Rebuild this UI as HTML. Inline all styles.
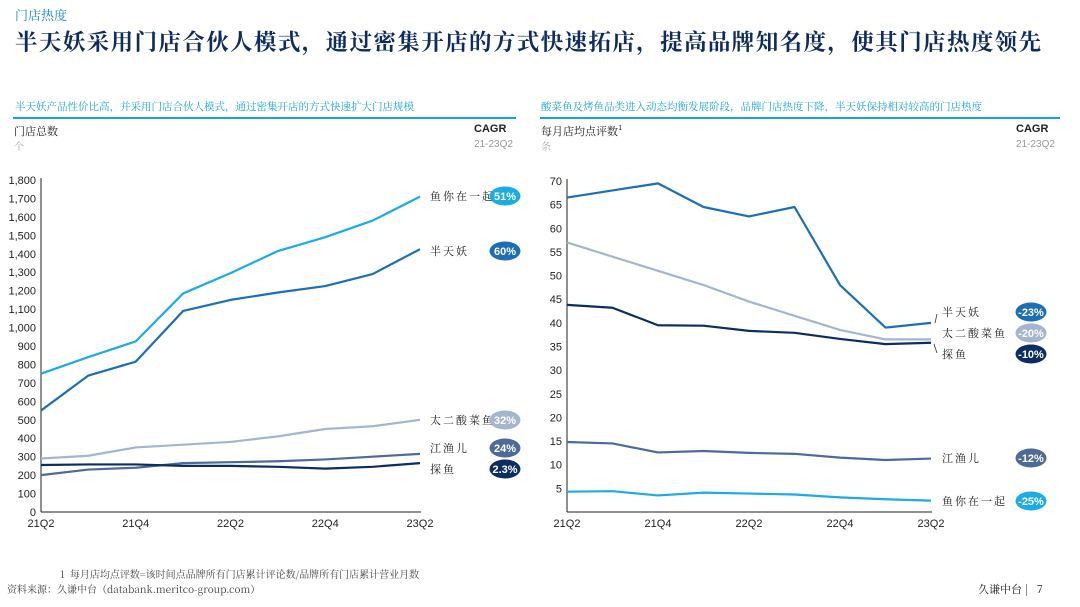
<!DOCTYPE html>
<html><head><meta charset="utf-8">
<style>
body{margin:0;width:1080px;height:607px;background:#fff;font-family:"Liberation Sans","Noto Serif CJK SC","Noto Sans CJK SC",sans-serif;overflow:hidden;position:relative}
.t{position:absolute;white-space:nowrap}
</style></head><body>
<div class="t" style="left:15px;top:5px;font-size:13px;color:#1a86c8;font-family:'Noto Serif CJK SC',serif">门店热度</div>
<div class="t" style="left:15px;top:25px;font-size:22.6px;font-weight:bold;color:#0d2b5c;font-family:'Noto Serif CJK SC',serif;letter-spacing:1.3px">半天妖采用门店合伙人模式，通过密集开店的方式快速拓店，提高品牌知名度，使其门店热度领先</div>
<div class="t" style="left:15px;top:99px;font-size:10.5px;color:#1aa3d8;font-family:'Noto Serif CJK SC',serif">半天妖产品性价比高，并采用门店合伙人模式，通过密集开店的方式快速扩大门店规模</div>
<div class="t" style="left:541px;top:99px;font-size:10.5px;color:#1aa3d8;font-family:'Noto Serif CJK SC',serif">酸菜鱼及烤鱼品类进入动态均衡发展阶段，品牌门店热度下降，半天妖保持相对较高的门店热度</div>
<div style="position:absolute;left:13px;top:117px;width:503px;height:2px;background:#1aa3d8"></div>
<div style="position:absolute;left:540px;top:117px;width:520px;height:2px;background:#1aa3d8"></div>
<div class="t" style="left:14px;top:123px;font-size:11px;color:#222;font-family:'Noto Serif CJK SC',serif">门店总数</div>
<div class="t" style="left:14px;top:138px;font-size:10px;color:#aaa">个</div>
<div class="t" style="left:474px;top:123px;font-size:11px;color:#222;font-weight:bold">CAGR</div>
<div class="t" style="left:474px;top:139px;font-size:10px;color:#999">21-23Q2</div>
<div class="t" style="left:541px;top:123px;font-size:11px;color:#222;font-family:'Noto Serif CJK SC',serif">每月店均点评数¹</div>
<div class="t" style="left:541px;top:138px;font-size:10px;color:#aaa">条</div>
<div class="t" style="left:1016px;top:123px;font-size:11px;color:#222;font-weight:bold">CAGR</div>
<div class="t" style="left:1016px;top:139px;font-size:10px;color:#999">21-23Q2</div>
<svg id="chart" width="1080" height="607" style="position:absolute;left:0;top:0"></svg>
<div class="t" style="left:60px;top:566px;font-size:10px;color:#444;font-family:'Noto Serif CJK SC',serif">1&nbsp;&nbsp;每月店均点评数=该时间点品牌所有门店累计评论数/品牌所有门店累计营业月数</div>
<div class="t" style="left:7px;top:581px;font-size:10px;color:#444;font-family:'Noto Serif CJK SC',serif">资料来源：久谦中台（databank.meritco-group.com）</div>
<div class="t" style="left:978px;top:581px;font-size:11px;color:#222;font-family:'Noto Serif CJK SC',serif">久谦中台 <span style="color:#333">|</span>&nbsp;&nbsp; 7</div>
<script>
const categories=["21Q2","21Q3","21Q4","22Q1","22Q2","22Q3","22Q4","23Q1","23Q2"];
const xTicks=["21Q2","21Q4","22Q2","22Q4","23Q2"];
const leftNames=["鱼你在一起","半天妖","太二酸菜鱼","江渔儿","探鱼"];
const leftYu=[750,840,925,1185,1295,1415,1490,1580,1710];
const leftBan=[550,740,815,1090,1150,1190,1225,1290,1425];
const leftTai=[290,305,350,365,380,410,450,465,500];
const leftJiang=[200,230,240,265,270,275,285,300,315];
const leftTan=[255,258,258,250,250,245,235,245,265];
const leftCagr=["51%","60%","32%","24%","2.3%"];
const leftTicks=[0,100,200,300,400,500,600,700,800,900,1000,1100,1200,1300,1400,1500,1600,1700,1800];
const rightNames=["半天妖","太二酸菜鱼","探鱼","江渔儿","鱼你在一起"];
const rightBan=[66.5,68,69.5,64.5,62.5,64.5,48,39,40];
const rightTai=[57,54,51,48,44.5,41.5,38.5,36.5,36.5];
const rightTan=[43.8,43.2,39.5,39.4,38.3,37.9,36.6,35.5,35.8];
const rightJiang=[14.8,14.5,12.6,12.9,12.5,12.3,11.5,11,11.3];
const rightYu=[4.3,4.4,3.5,4.1,3.9,3.7,3.1,2.7,2.4];
const rightCagr=["-23%","-20%","-10%","-12%","-25%"];
const rightTicks=[5,10,15,20,25,30,35,40,45,50,55,60,65,70];

const NS="http://www.w3.org/2000/svg";
const svg=document.getElementById('chart');
function mk(tag,a,parent){const e=document.createElementNS(NS,tag);for(const k in a)e.setAttribute(k,a[k]);(parent||svg).appendChild(e);return e;}
const C={yu:"#1aace3",ban:"#1c6fb5",tai:"#a5b5cd",jiang:"#4e6a98",tan:"#0c2d5f"};

function drawChart(o){
  const xS=i=>o.x0+(o.x1-o.x0)*i/(categories.length-1);
  const yS=v=>o.y0-(o.y0-o.y1)*v/o.max;
  const g=mk('g',{});
  
  
  const ax=mk('line',{x1:o.x0,y1:o.y1-2,x2:o.x0,y2:o.y0,stroke:'#222','stroke-width':1},g);
  
  const bx=mk('line',{x1:o.x0,y1:o.y0,x2:o.x1+1,y2:o.y0,stroke:'#222','stroke-width':1},g);
  
  o.ticks.forEach(t=>{const e=mk('text',{x:o.x0-5,y:yS(t)+4,'text-anchor':'end','font-size':11,fill:'#222'},g);e.textContent=t.toLocaleString('en-US');
    });
  xTicks.forEach(t=>{const i=categories.indexOf(t);const e=mk('text',{x:xS(i),y:o.y0+15,'text-anchor':'middle','font-size':11,fill:'#222'},g);e.textContent=t;
    });
  o.series.forEach(s=>{
    const p=mk('polyline',{points:s.v.map((v,i)=>xS(i)+','+yS(v)).join(' '),fill:'none',stroke:s.c,'stroke-width':2.2,'stroke-linejoin':'round'},g);
    
    const lt=mk('text',{x:o.lx,y:s.ly+4,'font-size':11,fill:'#222','font-family':'Noto Serif CJK SC, serif','letter-spacing':2},g);lt.textContent=s.n;
    
    const b=mk('ellipse',{cx:o.bx,cy:s.ly,rx:15.5,ry:9.5,fill:s.c},g);
    
    const bt=mk('text',{x:o.bx,y:s.ly+4,'text-anchor':'middle','font-size':11,'font-weight':'bold',fill:'#fff'},g);bt.textContent=s.cagr;
    
  });
  return {xS,yS};
}
drawChart({name:'left-chart',x0:41,x1:420,y0:512,y1:180,max:1800,ticks:leftTicks,lx:430,bx:505,series:[
  {key:'yu',n:leftNames[0],v:leftYu,c:C.yu,cagr:leftCagr[0],ly:196},
  {key:'ban',n:leftNames[1],v:leftBan,c:C.ban,cagr:leftCagr[1],ly:251},
  {key:'tai',n:leftNames[2],v:leftTai,c:C.tai,cagr:leftCagr[2],ly:420},
  {key:'jiang',n:leftNames[3],v:leftJiang,c:C.jiang,cagr:leftCagr[3],ly:448},
  {key:'tan',n:leftNames[4],v:leftTan,c:C.tan,cagr:leftCagr[4],ly:469}]});
drawChart({name:'right-chart',x0:567,x1:931,y0:512,y1:181,max:70,ticks:rightTicks,lx:942,bx:1031,series:[
  {key:'ban',n:rightNames[0],v:rightBan,c:C.ban,cagr:rightCagr[0],ly:312},
  {key:'tai',n:rightNames[1],v:rightTai,c:C.tai,cagr:rightCagr[1],ly:333},
  {key:'tan',n:rightNames[2],v:rightTan,c:C.tan,cagr:rightCagr[2],ly:354},
  {key:'jiang',n:rightNames[3],v:rightJiang,c:C.jiang,cagr:rightCagr[3],ly:458},
  {key:'yu',n:rightNames[4],v:rightYu,c:C.yu,cagr:rightCagr[4],ly:501}]});
const l1=mk('line',{x1:935,y1:323,x2:937,y2:314,stroke:'#333','stroke-width':0.8});

const l2=mk('line',{x1:934,y1:344,x2:937,y2:353,stroke:'#333','stroke-width':0.8});

</script>
</body></html>
